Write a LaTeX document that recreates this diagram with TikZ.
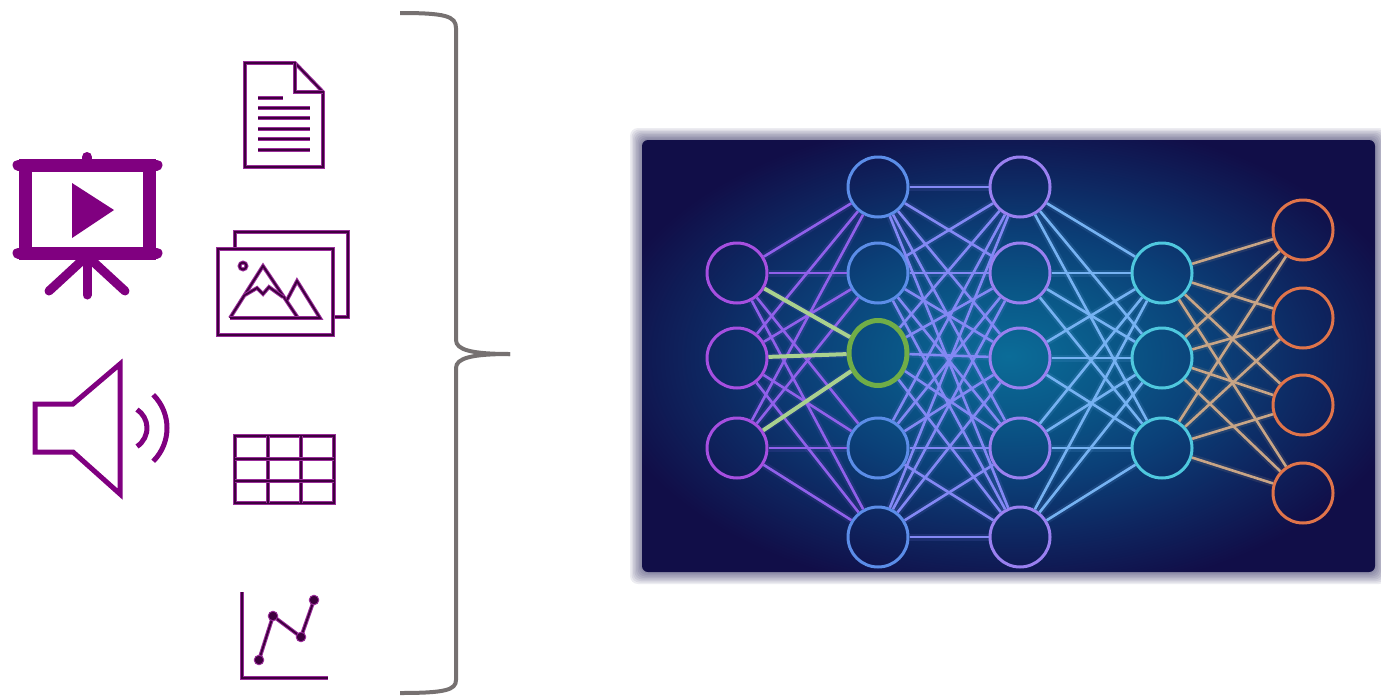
\documentclass[tikz,border=0pt]{standalone}
\usetikzlibrary{shapes.geometric}

% icon and network colours
\definecolor{iconpurple}{HTML}{800080}
\definecolor{iconrim}{HTML}{9A2C9A}
\definecolor{iconcore}{HTML}{3E003E}
\definecolor{bracegray}{HTML}{767171}
\definecolor{glowA}{HTML}{0B6C98}
\definecolor{glowB}{HTML}{0A5888}
\definecolor{glowC}{HTML}{0B4078}
\definecolor{glowD}{HTML}{0E2660}
\definecolor{glowE}{HTML}{110E48}
\definecolor{colA}{HTML}{A64FE0}
\definecolor{colB}{HTML}{5B8DE8}
\definecolor{colC}{HTML}{9A80F0}
\definecolor{colD}{HTML}{4FC8DE}
\definecolor{colE}{HTML}{E0744A}
\definecolor{edgeAB}{HTML}{9060EA}
\definecolor{edgeBC}{HTML}{8388F4}
\definecolor{edgeCD}{HTML}{76B2F2}
\definecolor{edgeDE}{HTML}{C8A586}
\definecolor{hlgreen}{HTML}{70AD47}
\definecolor{hllight}{HTML}{A9D18E}

\pgfdeclareradialshading{netglow}{\pgfpoint{0bp}{0bp}}{%
  color(0bp)=(glowA); color(7bp)=(glowB); color(14bp)=(glowC);
  color(21bp)=(glowD); color(28bp)=(glowE); color(50bp)=(glowE)}

\begin{document}
\begin{tikzpicture}[x=1pt,y=-1pt,
  solidicon/.style={draw=iconpurple, line width=11, line cap=round},
  lineicon/.style={draw=iconrim, double=iconcore, double distance=1.8,
    line width=1.0, line join=miter},
  neuron/.style={circle, minimum size=60, inner sep=0, line width=3},
  netedge/.style={line width=2.6, preaction={draw=#1, line width=7, opacity=0.12}, draw=#1},
  hlline/.style={draw=hllight, line width=4},
]
\useasboundingbox (0,0) rectangle (1381,699);

% ---------- presentation board ----------
\draw[draw=iconpurple, line width=13] (25,165) rectangle (149,253);
\draw[solidicon] (18,165) -- (157,165);
\draw[solidicon] (18,253) -- (157,253);
\draw[solidicon, line width=10] (87,157) -- (87,165);
\draw[solidicon, line width=9] (87,253) -- (87,295);
\draw[solidicon, line width=9] (87,256) -- (49,291);
\draw[solidicon, line width=9] (87,256) -- (125,291);
\fill[iconpurple] (72,183) -- (114,210) -- (72,238) -- cycle;

% ---------- speaker ----------
\draw[draw=iconpurple, line width=5, line join=miter]
  (35,404) -- (73,404) -- (120,364) -- (120,494) -- (73,452) -- (35,452) -- cycle;
\draw[draw=iconpurple, line width=5] (125,428) ++(57:22) arc[start angle=57, end angle=-57, radius=22];
\draw[draw=iconpurple, line width=5] (120,428) ++(45:47) arc[start angle=45, end angle=-45, radius=47];

% ---------- document ----------
\draw[lineicon] (245,63) -- (295,63) -- (323,92) -- (323,167) -- (245,167) -- cycle;
\draw[lineicon] (295,63) -- (295,92) -- (323,92);
\draw[lineicon] (258,98) -- (283,98);
\foreach \yy in {108,118,129,139,150}
  \draw[lineicon] (258,\yy) -- (310,\yy);

% ---------- pictures ----------
\draw[lineicon] (235,232) rectangle (348,317);
\fill[white] (218,249) rectangle (333,335);
\draw[lineicon] (218,249) rectangle (333,335);
\draw[lineicon] (243,266) circle[radius=3.5];
\draw[lineicon] (230,318) -- (263,266) -- (298,318);
\draw[lineicon] (287,300) -- (297,281) -- (320,318) -- (230,318);
\draw[lineicon] (245,295) -- (257,288) -- (263,294) -- (269,287) -- (283,297);

% ---------- table ----------
\draw[lineicon] (235,436) rectangle (334,503);
\draw[lineicon] (268,436) -- (268,503) (301,436) -- (301,503);
\draw[lineicon] (235,459) -- (334,459) (235,481) -- (334,481);

% ---------- chart ----------
\draw[lineicon] (242,592) -- (242,678) -- (328,678);
\draw[lineicon] (259,660) -- (273,616) -- (301,637) -- (314,600);
\foreach \px/\py in {259/660, 273/616, 301/637, 314/600}
  \filldraw[draw=iconrim, fill=iconcore, line width=0.9] (\px,\py) circle[radius=4.8];

% ---------- brace ----------
\draw[draw=bracegray, line width=4]
  (400,13) .. controls (445,13) and (456,16) .. (456,28) -- (456,340)
  .. controls (456,350) and (472,354) .. (510,354);
\draw[draw=bracegray, line width=4]
  (510,354) .. controls (472,354) and (456,358) .. (456,368) -- (456,680)
  .. controls (456,690) and (445,693) .. (400,693);

% ---------- network panel with soft edges ----------
\foreach \i in {1,...,8}
  \fill[glowE, opacity=0.08, rounded corners=8]
    (642-1.5*\i,140-1.5*\i) rectangle (1375+1.5*\i,572+1.5*\i);
\shade[shading=netglow, rounded corners=6] (642,140) rectangle (1375,572);

% neurons
\foreach \y [count=\k] in {273,358,448}
  \node[neuron, draw=colA] (a\k) at (737,\y) {};
\foreach \y [count=\k] in {187,273,353,448,537} {
  \ifnum\k=3
    \node[ellipse, minimum width=58, minimum height=65, inner sep=0,
          line width=5, draw=hlgreen] (b\k) at (878,\y) {};
  \else
    \node[neuron, draw=colB] (b\k) at (878,\y) {};
  \fi
}
\foreach \y [count=\k] in {187,273,358,448,537}
  \node[neuron, draw=colC] (c\k) at (1020,\y) {};
\foreach \y [count=\k] in {273,358,448}
  \node[neuron, draw=colD] (d\k) at (1162,\y) {};
\foreach \y [count=\k] in {230,318,405,493}
  \node[neuron, draw=colE] (e\k) at (1303,\y) {};

% connections between layers
\foreach \i in {1,2,3} \foreach \j in {1,...,5}
  \draw[netedge=edgeAB] (a\i) -- (b\j);
\foreach \i in {1,...,5} \foreach \j in {1,...,5}
  \draw[netedge=edgeBC] (b\i) -- (c\j);
\foreach \i in {1,...,5} \foreach \j in {1,2,3}
  \draw[netedge=edgeCD] (c\i) -- (d\j);
\foreach \i in {1,2,3} \foreach \j in {1,...,4}
  \draw[netedge=edgeDE] (d\i) -- (e\j);

% highlighted inputs of one neuron
\foreach \i in {1,2,3}
  \draw[hlline] (a\i) -- (b3);
\end{tikzpicture}
\end{document}
